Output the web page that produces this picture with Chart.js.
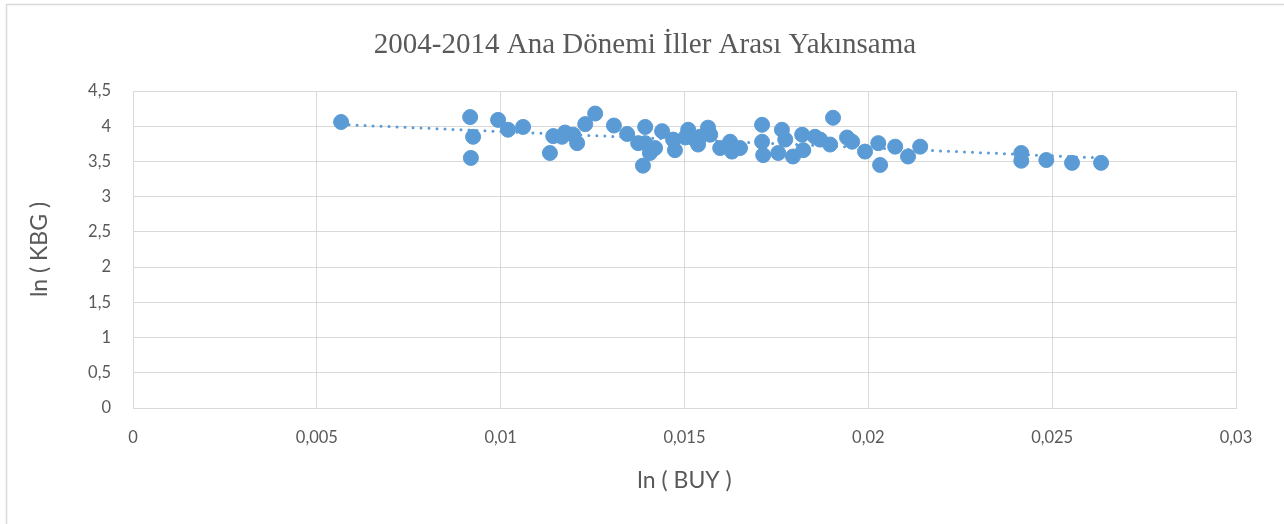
<!DOCTYPE html>
<html>
<head>
<meta charset="utf-8">
<script src="https://cdn.jsdelivr.net/npm/chart.js@4.4.0/dist/chart.umd.min.js"></script>
<style>
  html, body { margin: 0; padding: 0; background: #fff; }
  #wrap { width: 1284px; height: 524px; }
</style>
</head>
<body>
<div id="wrap"><canvas id="chart"></canvas></div>
<script>
// ln(BUY) values
const buyValues = [
  0.00566, 0.00917, 0.00925, 0.00919, 0.00993, 0.01020, 0.01061, 0.01134, 0.01143, 0.01175,
  0.01197, 0.01208, 0.01167, 0.01230, 0.01257, 0.01308, 0.01344, 0.01374, 0.01393, 0.01387,
  0.01393, 0.01406, 0.01420, 0.01439, 0.01469, 0.01474, 0.01510, 0.01529, 0.01537, 0.01564,
  0.01570, 0.01502, 0.01542, 0.01597, 0.01624, 0.01629, 0.01651, 0.01711, 0.01711, 0.01714,
  0.01755, 0.01765, 0.01774, 0.01795, 0.01820, 0.01823, 0.01855, 0.01869, 0.01896, 0.01904,
  0.01942, 0.01956, 0.01991, 0.02027, 0.02032, 0.02073, 0.02108, 0.02141, 0.02416, 0.02416,
  0.02484, 0.02554, 0.02633
];
// ln(KBG) values
const kbgValues = [
  4.06, 4.13, 3.85, 3.55, 4.09, 3.95, 3.99, 3.62, 3.86, 3.91,
  3.88, 3.76, 3.85, 4.03, 4.18, 4.01, 3.89, 3.76, 3.99, 3.44,
  3.76, 3.62, 3.69, 3.93, 3.81, 3.66, 3.95, 3.81, 3.74, 3.98,
  3.88, 3.84, 3.85, 3.69, 3.78, 3.64, 3.69, 4.02, 3.78, 3.59,
  3.62, 3.95, 3.81, 3.57, 3.88, 3.66, 3.85, 3.81, 3.74, 4.12,
  3.84, 3.78, 3.64, 3.76, 3.45, 3.71, 3.57, 3.71, 3.62, 3.51,
  3.52, 3.48, 3.48
];

const titleText = '2004-2014 Ana Dönemi İller Arası Yakınsama';
const xTitle = 'ln ( BUY )';
const yTitle = 'ln ( KBG )';

const blue = '#5B9BD5';
const grey = '#595959';
const gridGrey = '#D9D9D9';

const points = buyValues.map((x, i) => ({ x: x, y: kbgValues[i] }));

// linear trend (least squares), like the spreadsheet trendline
const n = points.length;
const mx = buyValues.reduce((a, b) => a + b, 0) / n;
const my = kbgValues.reduce((a, b) => a + b, 0) / n;
let sxy = 0, sxx = 0;
points.forEach(p => { sxy += (p.x - mx) * (p.y - my); sxx += (p.x - mx) ** 2; });
const slope = sxy / sxx;
const icpt = my - slope * mx;
const xMin = Math.min(...buyValues), xMax = Math.max(...buyValues);
const trend = [{ x: xMin, y: icpt + slope * xMin }, { x: xMax, y: icpt + slope * xMax }];

// background, outer frame and the title centred on the whole chart box
const frame = {
  id: 'frame',
  beforeDraw(chart) {
    const ctx = chart.ctx;
    ctx.save();
    ctx.fillStyle = '#fff';
    ctx.fillRect(0, 0, chart.width, chart.height);
    ctx.strokeStyle = gridGrey;
    ctx.lineWidth = 1.5;
    ctx.strokeRect(6.5, 4.5, 1400, 600);
    ctx.fillStyle = grey;
    ctx.font = '29px "Liberation Serif"';
    ctx.textAlign = 'center';
    ctx.textBaseline = 'middle';
    ctx.fillText(titleText, 645, 45);
    ctx.restore();
  }
};

const commaFmt = v => String(v).replace('.', ',');

new Chart(document.getElementById('chart'), {
  type: 'scatter',
  data: {
    datasets: [
      {
        label: 'trend',
        type: 'line',
        data: trend,
        borderColor: blue,
        borderWidth: 3,
        borderDash: [0, 8],
        borderCapStyle: 'round',
        pointRadius: 0,
        fill: false,
        order: 2
      },
      {
        label: 'iller',
        data: points,
        backgroundColor: blue,
        borderColor: blue,
        pointRadius: 7.5,
        pointHoverRadius: 7.5,
        order: 1
      }
    ]
  },
  options: {
    responsive: true,
    maintainAspectRatio: false,
    animation: false,
    layout: { padding: { left: 10, right: 48, top: 91, bottom: 10 } },
    plugins: {
      legend: { display: false },
      tooltip: { enabled: false },
      title: { display: false }
    },
    scales: {
      x: {
        type: 'linear',
        min: 0,
        max: 0.03,
        afterFit: s => { s.height = 106; },
        ticks: {
          stepSize: 0.005,
          color: grey,
          padding: 20,
          font: { family: 'Lato', size: 16.5 },
          callback: v => commaFmt(Math.round(v * 1000) / 1000)
        },
        grid: { color: gridGrey, lineWidth: 1, drawTicks: false },
        border: { color: gridGrey },
        title: {
          display: true,
          text: xTitle,
          color: grey,
          font: { family: 'Lato', size: 23 },
          padding: { top: 4, bottom: 20 }
        }
      },
      y: {
        min: 0,
        max: 4.5,
        afterFit: s => { s.width = 123; },
        ticks: {
          stepSize: 0.5,
          color: grey,
          padding: 22,
          font: { family: 'Lato', size: 16.5 },
          callback: v => commaFmt(v)
        },
        grid: { color: gridGrey, lineWidth: 1, drawTicks: false },
        border: { color: gridGrey },
        title: {
          display: true,
          text: yTitle,
          color: grey,
          font: { family: 'Lato', size: 23 },
          padding: { top: 16, bottom: 4 }
        }
      }
    }
  },
  plugins: [frame]
});
</script>
</body>
</html>
